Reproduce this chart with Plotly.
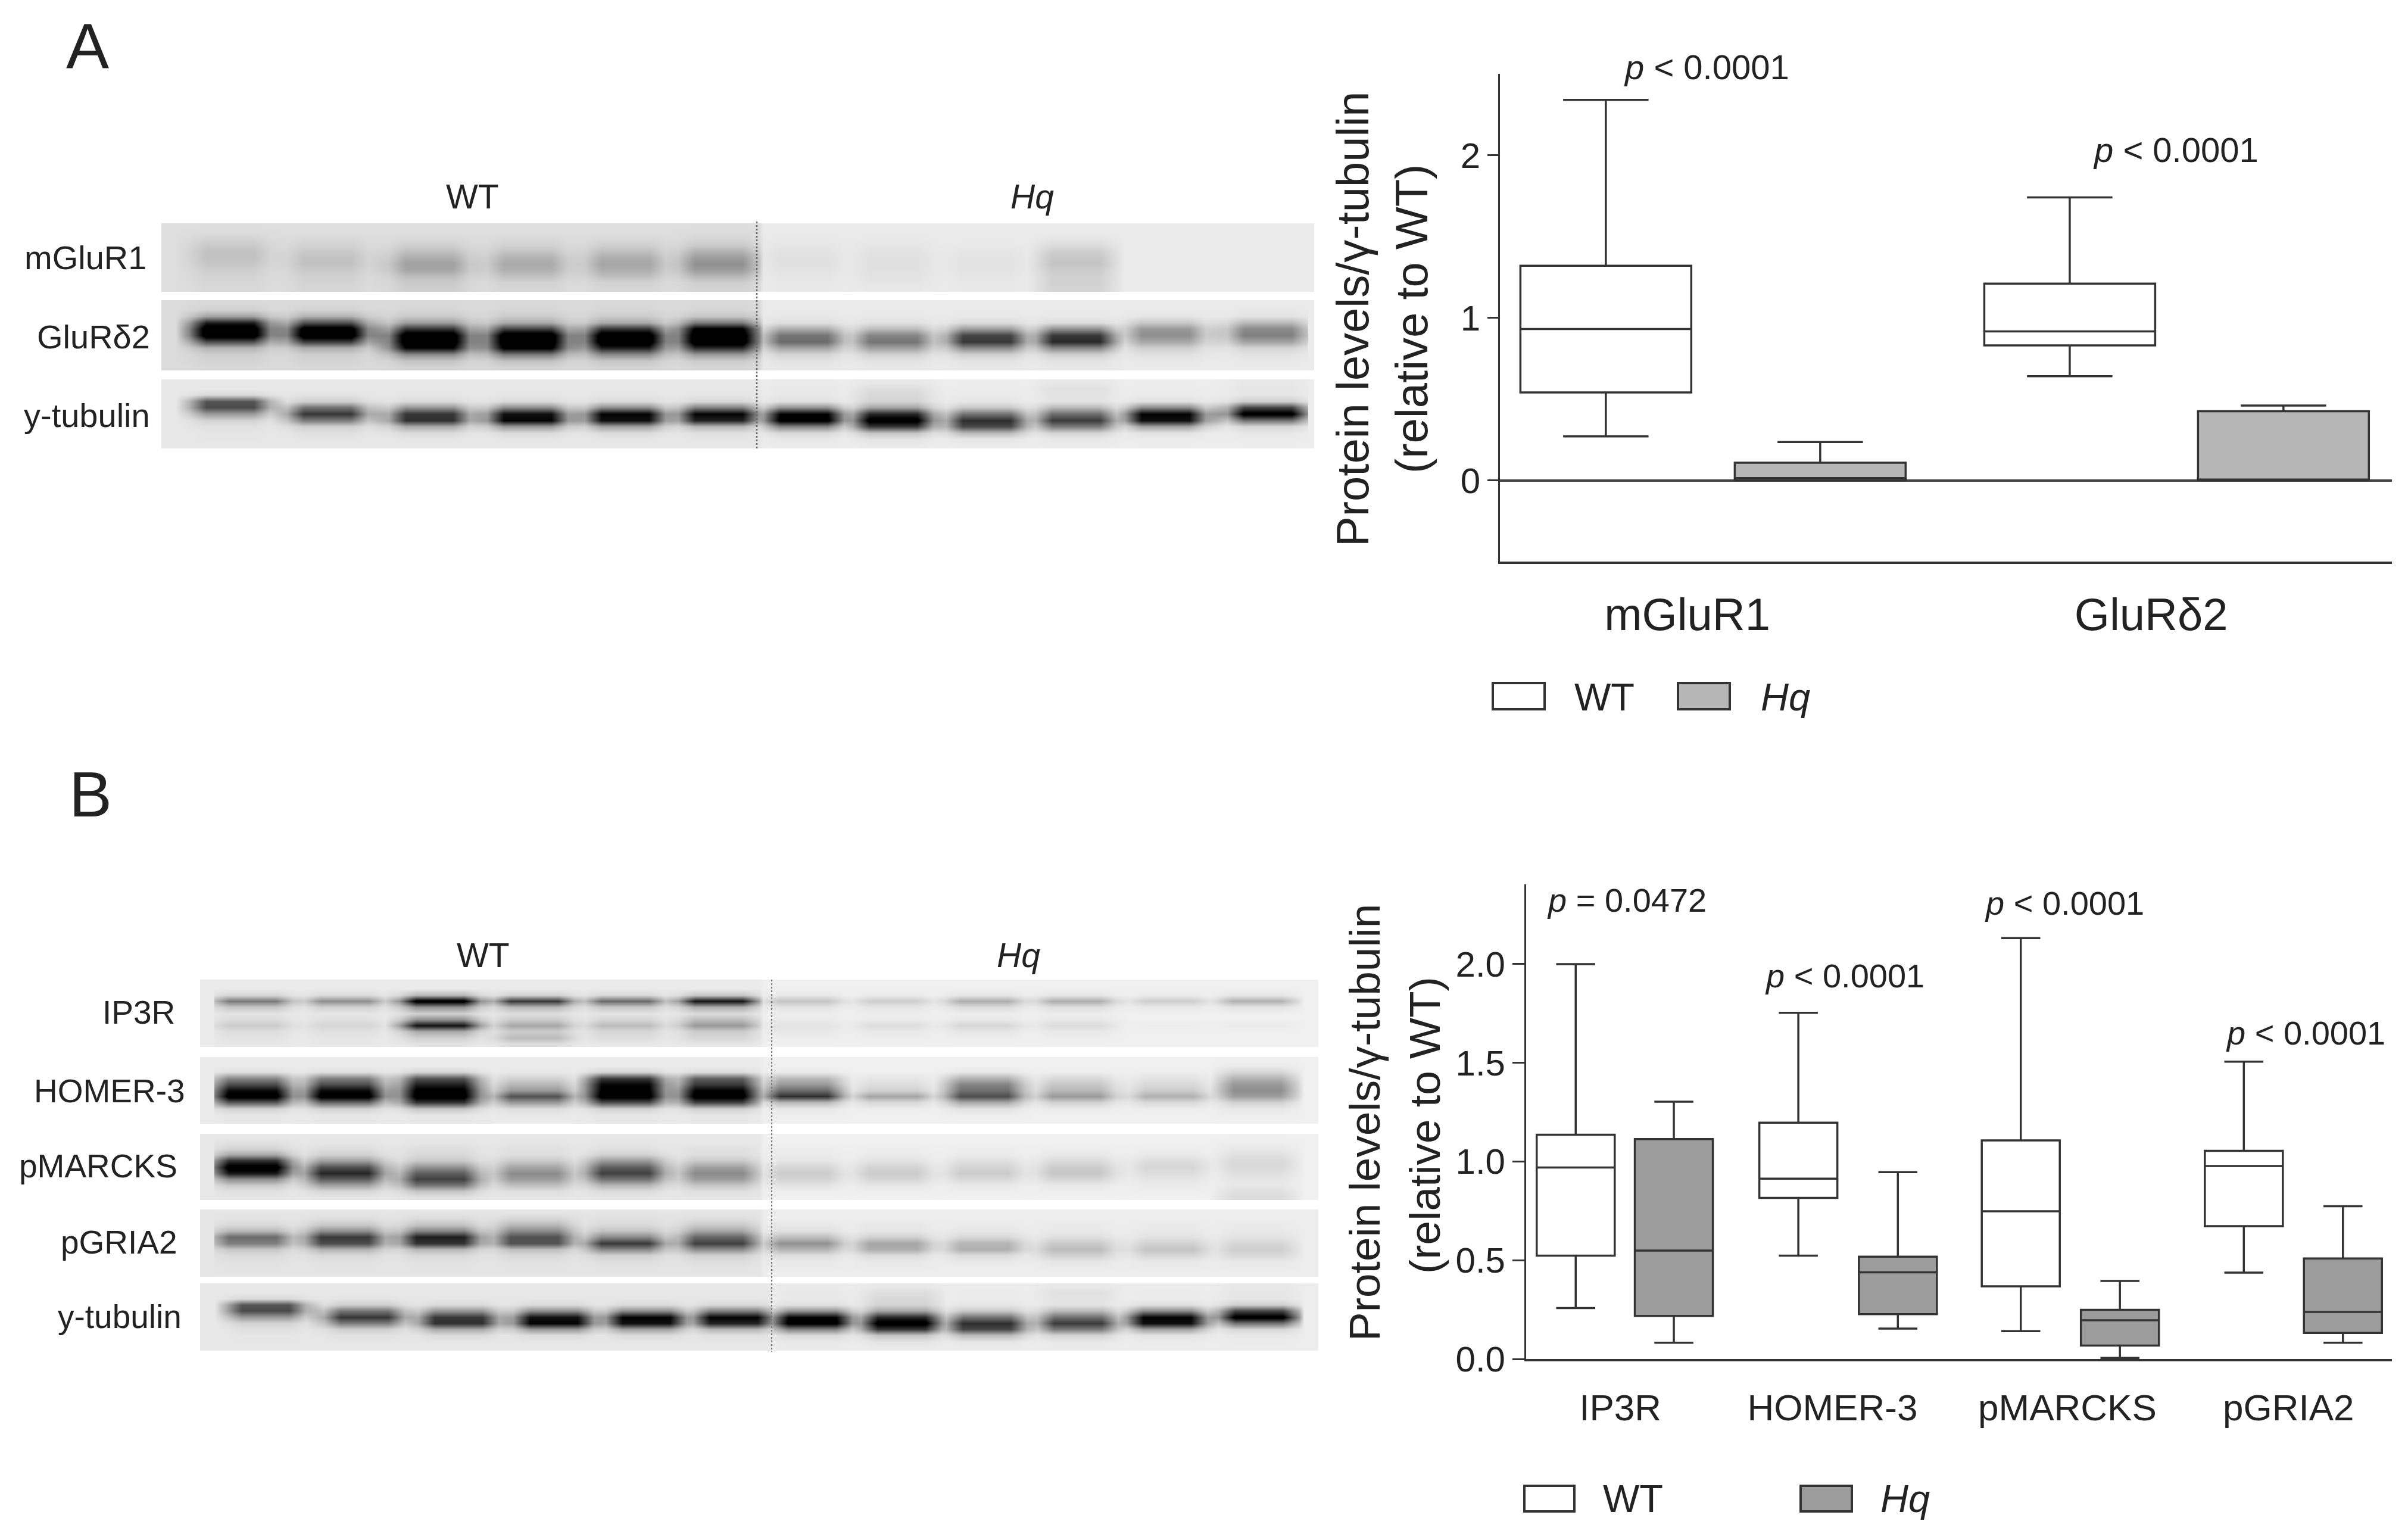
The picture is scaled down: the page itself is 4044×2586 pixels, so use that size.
"""Western blots and box plots of protein levels in WT and Hq (panels A and B)."""
import numpy as np
import plotly.graph_objects as go

# ---- panel A box plots
A_GENES = ["mGluR1", "GluRδ2"]
A_WT_LOW = [0.27, 0.64]
A_WT_Q1 = [0.54, 0.83]
A_WT_MED = [0.93, 0.916]
A_WT_Q3 = [1.32, 1.21]
A_WT_HIGH = [2.34, 1.74]
A_HQ_LOW = [0.0, 0.0]
A_HQ_Q1 = [0.0, 0.0]
A_HQ_MED = [0.014, 0.005]
A_HQ_Q3 = [0.108, 0.425]
A_HQ_HIGH = [0.235, 0.46]
A_P = ["<i>p</i> &lt; 0.0001", "<i>p</i> &lt; 0.0001"]

# ---- panel B box plots
B_GENES = ["IP3R", "HOMER-3", "pMARCKS", "pGRIA2"]
B_WT_LOW = [0.258, 0.523, 0.141, 0.437]
B_WT_Q1 = [0.523, 0.816, 0.368, 0.673]
B_WT_MED = [0.97, 0.913, 0.748, 0.977]
B_WT_Q3 = [1.136, 1.197, 1.107, 1.054]
B_WT_HIGH = [2.0, 1.753, 2.132, 1.506]
B_HQ_LOW = [0.082, 0.154, 0.005, 0.082]
B_HQ_Q1 = [0.218, 0.227, 0.068, 0.132]
B_HQ_MED = [0.549, 0.439, 0.196, 0.238]
B_HQ_Q3 = [1.114, 0.518, 0.249, 0.509]
B_HQ_HIGH = [1.303, 0.946, 0.395, 0.774]
B_P = ["<i>p</i> = 0.0472", "<i>p</i> &lt; 0.0001", "<i>p</i> &lt; 0.0001", "<i>p</i> &lt; 0.0001"]

# ---- blots: band darkness (0-100) above background, one list per lane, top to bottom
MGLUR1_LANES = [
    [0, 1, 4, 8, 11, 11, 9, 6, 4, 3, 2],
    [0, 0, 2, 5, 8, 11, 11, 8, 5, 4, 3],
    [0, 0, 2, 6, 12, 19, 24, 22, 13, 8, 6],
    [0, 0, 2, 5, 10, 17, 20, 18, 11, 5, 3],
    [0, 0, 2, 6, 12, 19, 22, 19, 12, 5, 3],
    [0, 1, 3, 8, 17, 26, 30, 26, 15, 6, 4],
    [0, 0, 1, 2, 3, 4, 4, 3, 2, 1, 1],
    [0, 0, 1, 2, 3, 4, 4, 4, 3, 2, 1],
    [0, 0, 0, 1, 2, 3, 3, 3, 2, 1, 1],
    [0, 0, 2, 6, 11, 14, 15, 12, 10, 10, 9],
    [0, 0, 0, 0, 0, 0, 0, 0, 0, 0, 0],
    [0, 0, 0, 0, 0, 0, 0, 0, 0, 0, 0],
]
GLURD2_LANES = [
    [1, 4, 22, 75, 100, 100, 55, 16, 5, 3, 1],
    [1, 3, 16, 55, 95, 100, 62, 18, 5, 3, 1],
    [1, 2, 7, 25, 65, 100, 100, 85, 32, 9, 3],
    [1, 2, 6, 20, 60, 100, 100, 90, 38, 10, 3],
    [1, 2, 6, 20, 65, 100, 100, 75, 32, 8, 3],
    [1, 2, 8, 38, 88, 100, 100, 70, 26, 6, 2],
    [0, 0, 1, 5, 24, 46, 50, 28, 9, 3, 1],
    [0, 0, 1, 4, 18, 40, 46, 30, 10, 3, 1],
    [0, 0, 1, 6, 30, 65, 70, 38, 11, 3, 1],
    [0, 0, 1, 6, 35, 70, 76, 40, 11, 3, 1],
    [0, 0, 2, 14, 32, 36, 26, 11, 4, 1, 0],
    [0, 1, 3, 20, 38, 42, 28, 9, 3, 1, 0],
]
TUBULIN_LANES = [
    [0, 0, 6, 58, 62, 30, 8, 3, 1, 1, 0],
    [0, 0, 2, 10, 45, 70, 42, 10, 3, 1, 0],
    [0, 0, 1, 5, 32, 70, 72, 25, 5, 1, 0],
    [0, 0, 1, 5, 35, 85, 90, 32, 5, 1, 0],
    [0, 0, 1, 5, 35, 90, 85, 28, 5, 1, 0],
    [0, 0, 1, 6, 40, 90, 78, 20, 3, 1, 0],
    [1, 2, 2, 5, 35, 92, 98, 42, 8, 2, 1],
    [2, 6, 8, 10, 28, 78, 100, 72, 16, 4, 1],
    [0, 1, 1, 3, 14, 48, 75, 65, 20, 3, 1],
    [2, 5, 4, 4, 20, 50, 70, 45, 10, 2, 1],
    [0, 1, 1, 5, 38, 92, 88, 30, 4, 1, 0],
    [2, 3, 3, 12, 65, 100, 48, 9, 2, 1, 0],
]
IP3R_LANES = [
    [0, 0, 8, 44, 14, 3, 6, 12, 5, 3, 1],
    [0, 0, 6, 36, 10, 2, 4, 8, 4, 2, 1],
    [0, 0, 20, 100, 35, 10, 35, 85, 25, 10, 3],
    [0, 0, 10, 70, 20, 5, 12, 26, 12, 18, 5],
    [0, 0, 7, 50, 14, 3, 8, 18, 8, 5, 1],
    [0, 0, 14, 85, 24, 6, 18, 32, 12, 8, 2],
    [0, 0, 3, 17, 5, 1, 2, 5, 3, 1, 0],
    [0, 0, 2, 13, 4, 1, 2, 7, 3, 1, 0],
    [0, 0, 4, 26, 8, 1, 3, 10, 4, 1, 0],
    [0, 0, 4, 26, 7, 1, 3, 8, 3, 1, 0],
    [0, 0, 2, 13, 3, 0, 0, 1, 0, 0, 0],
    [0, 0, 4, 25, 5, 0, 0, 2, 0, 0, 0],
]
HOMER3_LANES = [
    [0, 0, 4, 40, 62, 88, 100, 58, 9, 2, 1],
    [0, 0, 4, 42, 62, 88, 100, 52, 9, 2, 1],
    [0, 0, 8, 60, 80, 96, 100, 72, 14, 2, 1],
    [0, 0, 1, 10, 20, 32, 60, 32, 5, 1, 0],
    [0, 0, 8, 70, 90, 94, 100, 62, 9, 2, 1],
    [0, 0, 5, 55, 70, 92, 100, 66, 10, 2, 1],
    [0, 0, 2, 22, 34, 52, 75, 22, 3, 1, 0],
    [0, 0, 0, 4, 7, 12, 30, 9, 1, 0, 0],
    [0, 0, 3, 25, 42, 50, 64, 28, 5, 1, 0],
    [0, 0, 1, 9, 16, 22, 34, 12, 2, 0, 0],
    [0, 0, 1, 5, 9, 14, 25, 9, 1, 0, 0],
    [0, 2, 10, 24, 34, 38, 32, 12, 3, 1, 0],
]
PMARCKS_LANES = [
    [0, 3, 8, 25, 72, 100, 82, 36, 12, 3, 1],
    [0, 1, 4, 9, 28, 60, 76, 55, 28, 7, 1],
    [0, 1, 4, 6, 12, 34, 54, 66, 46, 14, 3],
    [0, 1, 3, 4, 12, 26, 36, 30, 16, 4, 1],
    [0, 1, 3, 9, 30, 54, 66, 46, 20, 5, 1],
    [0, 0, 3, 4, 12, 28, 37, 30, 14, 4, 1],
    [0, 0, 1, 2, 4, 10, 14, 11, 5, 1, 0],
    [0, 0, 1, 2, 5, 11, 14, 10, 4, 1, 0],
    [0, 0, 1, 2, 6, 11, 14, 9, 3, 1, 0],
    [0, 0, 1, 3, 8, 14, 16, 10, 3, 1, 0],
    [0, 0, 1, 3, 7, 10, 7, 4, 2, 1, 0],
    [0, 1, 3, 6, 9, 9, 6, 4, 3, 6, 8],
]
PGRIA2_LANES = [
    [0, 1, 5, 18, 48, 40, 12, 4, 2, 1, 0],
    [0, 3, 12, 34, 68, 60, 20, 5, 2, 1, 0],
    [0, 4, 14, 38, 78, 70, 18, 5, 2, 1, 0],
    [0, 6, 18, 36, 58, 58, 15, 5, 2, 1, 0],
    [0, 2, 5, 14, 36, 68, 36, 8, 3, 1, 0],
    [0, 3, 11, 25, 50, 65, 35, 8, 3, 1, 0],
    [0, 0, 2, 5, 18, 36, 22, 6, 2, 1, 0],
    [0, 0, 2, 3, 11, 28, 25, 7, 2, 1, 0],
    [0, 0, 1, 3, 8, 22, 24, 7, 2, 0, 0],
    [0, 0, 1, 2, 5, 14, 19, 11, 3, 1, 0],
    [0, 0, 1, 2, 4, 11, 16, 9, 2, 1, 0],
    [0, 0, 1, 2, 4, 9, 12, 8, 2, 1, 0],
]

W, H = 4044, 2586
# the page body has an 8px margin, keep the figure inside the window
PAD = 8
FIG_W, FIG_H = W - 2 * PAD, H - 2 * PAD - 4
FONT = "Liberation Sans"
INK = "#222222"
LINE = "#333333"

# across one lane: edge, core, core, edge
LANE_PROFILE = [0.35, 1, 1, 0.35]
LANE_OFFSET = [-68, -40, 40, 68]
CENTERS_A = [386, 550, 721, 886, 1050, 1207, 1350, 1500, 1657, 1807, 1957, 2129]
CENTERS_B = [424, 579, 739, 897, 1050, 1207, 1350, 1500, 1653, 1807, 1964, 2111]
CENTERS_B_TUB = [446, 612, 770, 930, 1085, 1232, 1364, 1514, 1657, 1810, 1960, 2114]


def dom_x(x0, x1):
    return [(x0 - PAD) / FIG_W, (x1 - PAD) / FIG_W]


def dom_y(top, bottom):
    return [1 - (bottom - PAD) / FIG_H, 1 - (top - PAD) / FIG_H]


def blot(left, right, top, bottom, centers, lanes, back):
    """Heatmap of one blot strip, placed on the full-page pixel axes."""
    lanes = np.array(lanes, dtype=float)
    n_rows = lanes.shape[1]
    step = (bottom - top) / n_rows
    ys = [top + step * (k + 0.5) for k in range(n_rows)]

    xs = [left + 8, left + 24]
    cols = [np.full(n_rows, back[0]), np.full(n_rows, back[0])]
    for i, c in enumerate(centers):
        lane_back = back[0] if i < 6 else back[1]
        for off, w in zip(LANE_OFFSET, LANE_PROFILE):
            xs.append(c + off)
            cols.append(lane_back + lanes[i] * w)
    xs += [right - 24, right - 8]
    cols += [np.full(n_rows, back[1]), np.full(n_rows, back[1])]

    return go.Heatmap(x=xs, y=ys, z=np.array(cols).T.tolist(), zmin=0, zmax=100,
                      zsmooth="best", showscale=False, hoverinfo="skip",
                      colorscale=[[0, "#ffffff"], [1, "#000000"]],
                      xaxis="x3", yaxis="y3")


def boxes(xaxis, yaxis, xs, low, q1, med, q3, high, width, fill, line_w):
    return go.Box(x=xs, lowerfence=low, q1=q1, median=med, q3=q3, upperfence=high,
                  width=width, whiskerwidth=0.5, fillcolor=fill, boxpoints=False,
                  line=dict(color=LINE, width=line_w), showlegend=False,
                  hoverinfo="skip", xaxis=xaxis, yaxis=yaxis)


def text(x, y, s, size, anchor="center", angle=0):
    return dict(x=x, y=y, xref="x3", yref="y3", text=s, showarrow=False, textangle=angle,
                xanchor=anchor, yanchor="middle", font=dict(family=FONT, size=size, color=INK))


def key(x0, x1, y0, y1, fill):
    return dict(type="rect", xref="x3", yref="y3", x0=x0, x1=x1, y0=y0, y1=y1,
                fillcolor=fill, line=dict(color=LINE, width=4))


FILL_A = "#b6b6b6"
FILL_B = "#9c9c9c"

fig = go.Figure()

# blots
fig.add_trace(blot(271, 2207, 375, 490, CENTERS_A, MGLUR1_LANES, (13, 8)))
fig.add_trace(blot(271, 2207, 504, 622, CENTERS_A, GLURD2_LANES, (14, 8)))
fig.add_trace(blot(271, 2207, 637, 753, CENTERS_A, TUBULIN_LANES, (9, 7)))
fig.add_trace(blot(336, 2214, 1645, 1758, CENTERS_B, IP3R_LANES, (8, 6)))
fig.add_trace(blot(336, 2214, 1775, 1887, CENTERS_B, HOMER3_LANES, (8, 6)))
fig.add_trace(blot(336, 2214, 1904, 2015, CENTERS_B, PMARCKS_LANES, (9, 6)))
fig.add_trace(blot(336, 2214, 2031, 2144, CENTERS_B, PGRIA2_LANES, (10, 7)))
fig.add_trace(blot(336, 2214, 2155, 2268, CENTERS_B_TUB, TUBULIN_LANES, (9, 7)))

# box plots, x in units of one box slot
a_wt_x, a_hq_x = [0, 2.164], [1, 3.161]
b_wt_x, b_hq_x = [0, 2.246, 4.49, 6.74], [0.99, 3.25, 5.49, 7.74]
fig.add_trace(boxes("x", "y", a_wt_x, A_WT_LOW, A_WT_Q1, A_WT_MED, A_WT_Q3, A_WT_HIGH, 0.797, "#ffffff", 3.5))
fig.add_trace(boxes("x", "y", a_hq_x, A_HQ_LOW, A_HQ_Q1, A_HQ_MED, A_HQ_Q3, A_HQ_HIGH, 0.797, FILL_A, 3.5))
fig.add_trace(boxes("x2", "y2", b_wt_x, B_WT_LOW, B_WT_Q1, B_WT_MED, B_WT_Q3, B_WT_HIGH, 0.787, "#ffffff", 3.5))
fig.add_trace(boxes("x2", "y2", b_hq_x, B_HQ_LOW, B_HQ_Q1, B_HQ_MED, B_HQ_Q3, B_HQ_HIGH, 0.787, FILL_B, 3.5))

notes = [
    text(147, 77, "A", 108), text(152, 1333, "B", 108),
    text(793, 330, "WT", 57), text(1733, 330, "<i>Hq</i>", 57),
    text(811, 1604, "WT", 57), text(1710, 1604, "<i>Hq</i>", 57),
    text(248, 432, "mGluR1", 56, "right"), text(254, 565, "GluRδ2", 56, "right"),
    text(254, 697, "y-tubulin", 56, "right"),
    text(296, 1700, "IP3R", 55, "right"), text(313, 1832, "HOMER-3", 55, "right"),
    text(300, 1958, "pMARCKS", 55, "right"), text(300, 2086, "pGRIA2", 55, "right"),
    text(307, 2211, "y-tubulin", 55, "right"),
    text(2271, 536, "Protein levels/γ-tubulin", 76, angle=-90),
    text(2370, 536, "(relative to WT)", 76, angle=-90),
    text(2291, 1885, "Protein levels/γ-tubulin", 73, angle=-90),
    text(2392, 1890, "(relative to WT)", 73, angle=-90),
    text(2866, 112, A_P[0], 58), text(3654, 251, A_P[1], 58),
    text(2732, 1511, B_P[0], 56), text(3098, 1638, B_P[1], 56),
    text(3467, 1516, B_P[2], 56), text(3872, 1734, B_P[3], 56),
    text(2694, 1170, "WT", 65), text(2998, 1170, "<i>Hq</i>", 65),
    text(2742, 2516, "WT", 65), text(3199, 2516, "<i>Hq</i>", 65),
]

shapes = [
    key(2507, 2594, 1147, 1191, "#ffffff"), key(2818, 2905, 1147, 1191, FILL_A),
    key(2560, 2644, 2495, 2538, "#ffffff"), key(3024, 3110, 2495, 2538, FILL_B),
    dict(type="line", xref="x3", yref="y3", x0=1271, x1=1271, y0=372, y1=753,
         line=dict(color="#666666", width=2.5, dash="3px,3px")),
    dict(type="line", xref="x3", yref="y3", x0=1296, x1=1296, y0=1645, y1=2270,
         line=dict(color="#777777", width=2, dash="3px,3px")),
]


def axis_font(size):
    return dict(family=FONT, size=size, color=INK)


fig.update_layout(
    width=FIG_W, height=FIG_H, margin=dict(l=0, r=0, t=0, b=0),
    paper_bgcolor="white", plot_bgcolor="rgba(0,0,0,0)",
    boxmode="overlay", showlegend=False, annotations=notes, shapes=shapes,
    xaxis=dict(domain=dom_x(2519, 4017), range=[-0.494, 3.667], showgrid=False, zeroline=False,
               showline=True, linecolor=LINE, linewidth=4, anchor="y", automargin=False,
               tickmode="array", tickvals=[0.38, 2.544], ticktext=A_GENES,
               ticks="outside", ticklen=20, tickcolor="rgba(0,0,0,0)", tickfont=axis_font(76)),
    yaxis=dict(domain=dom_y(124, 943), range=[-0.5, 2.5], showgrid=False, automargin=False,
               zeroline=True, zerolinecolor="#444444", zerolinewidth=4, showline=True,
               linecolor=LINE, linewidth=3, anchor="x", tickmode="array", tickvals=[0, 1, 2],
               ticks="outside", ticklen=18, tickwidth=3, tickcolor=LINE, tickfont=axis_font(60)),
    xaxis2=dict(domain=dom_x(2563, 4017), range=[-0.5, 8.234], showgrid=False, zeroline=False,
                showline=True, linecolor=LINE, linewidth=4, anchor="y2", automargin=False,
                tickmode="array", tickvals=[0.45, 2.59, 4.96, 7.19], ticktext=B_GENES,
                ticks="outside", ticklen=25, tickcolor="rgba(0,0,0,0)", tickfont=axis_font(62)),
    yaxis2=dict(domain=dom_y(1485, 2282), range=[0, 2.404], showgrid=False, zeroline=False,
                showline=True, linecolor=LINE, linewidth=3, anchor="x2", tickmode="array",
                tickvals=[0, 0.5, 1, 1.5, 2], ticktext=["0.0", "0.5", "1.0", "1.5", "2.0"],
                automargin=False,
                ticks="outside", ticklen=20, tickwidth=3, tickcolor=LINE, tickfont=axis_font(60)),
    xaxis3=dict(domain=[0, 1], range=[PAD, PAD + FIG_W], visible=False, anchor="y3", automargin=False),
    yaxis3=dict(domain=[0, 1], range=[PAD + FIG_H, PAD], visible=False, anchor="x3", automargin=False),
)

fig.write_html("out.html")
